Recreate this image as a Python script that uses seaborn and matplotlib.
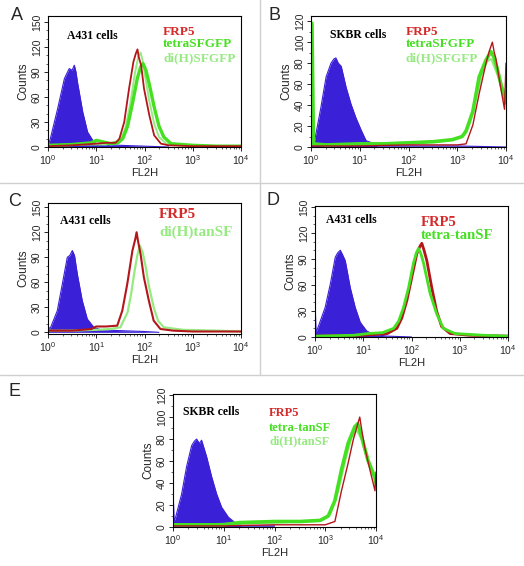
import numpy as np
import pandas as pd
import matplotlib
matplotlib.use("Agg")
import matplotlib.pyplot as plt
from matplotlib.ticker import LogLocator, MultipleLocator, NullFormatter
import seaborn as sns

# --- Data (x = log10 FL2H, y = counts) ---
A_BLUE_X = [0.0, 0.04, 0.2, 0.34, 0.44, 0.5, 0.545, 0.58, 0.61, 0.72, 0.82, 0.96, 1.1, 1.5, 2.0, 2.5]
A_BLUE_Y = [3, 8, 46, 82, 94, 92, 98, 90, 78, 42, 18, 5, 3, 2, 1, 0]
A_RED_X = [0.0, 0.5, 1.0, 1.2, 1.4, 1.48, 1.58, 1.68, 1.77, 1.82, 1.855, 1.88, 1.93, 1.99, 2.1, 2.2, 2.34, 2.5, 3.0, 3.5, 4.0]
A_RED_Y = [1, 2, 4, 5, 5, 10, 30, 70, 102, 112, 117, 108, 98, 70, 38, 14, 4, 2, 1, 1, 1]
A_TETRA_X = [0.0, 0.5, 0.9, 1.0, 1.15, 1.3, 1.45, 1.55, 1.65, 1.75, 1.85, 1.92, 1.97, 2.03, 2.1, 2.2, 2.3, 2.4, 2.55, 3.0, 3.5, 4.0]
A_TETRA_Y = [2, 3, 5, 8, 6, 4, 5, 10, 25, 52, 82, 96, 100, 92, 75, 48, 25, 12, 4, 2, 1, 1]
A_DIH_X = [0.0, 0.8, 1.2, 1.5, 1.6, 1.7, 1.8, 1.87, 1.92, 1.96, 2.02, 2.1, 2.2, 2.3, 2.45, 3.0, 4.0]
A_DIH_Y = [2, 3, 3, 8, 22, 50, 88, 108, 113, 104, 82, 55, 28, 12, 4, 1, 1]

B_BLUE_X = [0.0, 0.07, 0.2, 0.31, 0.41, 0.47, 0.51, 0.56, 0.62, 0.72, 0.82, 0.92, 1.03, 1.13, 1.25, 1.33, 1.36, 2.0, 3.0, 4.0]
B_BLUE_Y = [3, 5, 37, 67, 80, 84, 85, 80, 77, 57, 41, 28, 16, 6, 4, 3, 1, 1, 1, 0]
B_RED_X = [0.0, 1.0, 2.0, 3.0, 3.18, 3.32, 3.45, 3.59, 3.66, 3.72, 3.76, 3.79, 3.89, 3.97, 4.0]
B_RED_Y = [1, 1, 2, 2, 3, 21, 51, 80, 92, 100, 90, 85, 57, 36, 80]
B_TETRA_X = [0.0, 0.02, 0.05, 0.3, 1.0, 1.5, 2.0, 2.5, 2.9, 3.1, 3.18, 3.32, 3.45, 3.59, 3.69, 3.75, 3.82, 3.92, 4.0]
B_TETRA_Y = [118, 118, 3, 2, 3, 3, 4, 5, 7, 10, 15, 34, 67, 83, 91, 86, 75, 55, 42]
B_DIH_X = [0.0, 0.3, 1.0, 2.0, 2.8, 3.1, 3.25, 3.4, 3.52, 3.62, 3.7, 3.8, 3.9, 4.0]
B_DIH_Y = [2, 2, 3, 4, 6, 10, 22, 50, 72, 82, 84, 72, 60, 50]

C_BLUE_X = [0.0, 0.055, 0.193, 0.297, 0.4, 0.45, 0.504, 0.55, 0.607, 0.71, 0.814, 0.95, 1.1, 1.5, 2.0, 2.3]
C_BLUE_Y = [4, 6, 26, 58, 90, 92, 98, 92, 70, 38, 16, 6, 3, 2, 1, 0]
C_RED_X = [0.0, 0.5, 0.9, 1.0, 1.2, 1.435, 1.54, 1.643, 1.75, 1.81, 1.836, 1.87, 1.918, 1.987, 2.09, 2.19, 2.33, 2.6, 3.0, 4.0]
C_RED_Y = [2, 2, 4, 7, 7, 8, 26, 58, 98, 112, 120, 108, 94, 66, 38, 14, 4, 2, 1, 1]
C_DIH_X = [0.0, 0.5, 1.0, 1.3, 1.5, 1.65, 1.72, 1.79, 1.85, 1.905, 1.96, 2.02, 2.09, 2.19, 2.28, 2.4, 2.8, 3.5, 4.0]
C_DIH_Y = [2, 2, 3, 4, 6, 24, 45, 72, 92, 104, 96, 80, 56, 30, 14, 6, 3, 2, 1]

D_BLUE_X = [0.0, 0.005, 0.02, 0.075, 0.21, 0.317, 0.42, 0.47, 0.524, 0.57, 0.627, 0.73, 0.834, 0.937, 1.07, 1.21, 1.5, 2.0]
D_BLUE_Y = [35, 35, 5, 13, 34, 61, 92, 97, 100, 95, 88, 57, 34, 17, 7, 3, 1, 0]
D_RED_X = [0.0, 1.0, 1.5, 1.697, 1.8, 1.904, 2.007, 2.11, 2.17, 2.214, 2.26, 2.318, 2.42, 2.52, 2.625, 2.8, 3.2, 4.0]
D_RED_Y = [1, 2, 4, 10, 22, 42, 69, 96, 104, 108, 100, 88, 57, 30, 12, 4, 2, 1]
D_TETRA_X = [0.0, 0.8, 1.1, 1.4, 1.63, 1.73, 1.835, 1.94, 2.04, 2.1, 2.145, 2.2, 2.25, 2.387, 2.52, 2.66, 2.9, 3.5, 4.0]
D_TETRA_Y = [1, 2, 4, 5, 10, 18, 34, 57, 85, 97, 102, 95, 85, 50, 27, 10, 4, 2, 1]

E_BLUE_X = [0.0, 0.005, 0.02, 0.052, 0.17, 0.268, 0.367, 0.42, 0.465, 0.52, 0.563, 0.662, 0.76, 0.86, 0.958, 1.09, 1.22, 1.32, 1.34, 2.0]
E_BLUE_Y = [30, 30, 5, 9, 30, 55, 74, 78, 80, 76, 79, 64, 46, 30, 18, 9, 4, 3, 1, 1]
E_RED_X = [0.0, 1.0, 2.0, 3.0, 3.19, 3.32, 3.45, 3.55, 3.63, 3.68, 3.72, 3.78, 3.88, 3.98, 4.0]
E_RED_Y = [1, 1, 2, 2, 5, 33, 58, 79, 92, 100, 88, 72, 52, 33, 50]
E_TETRA_X = [0.0, 1.0, 1.3, 2.0, 2.5, 2.9, 3.06, 3.19, 3.32, 3.45, 3.58, 3.64, 3.71, 3.84, 3.97, 4.0]
E_TETRA_Y = [2, 2, 4, 5, 5, 6, 10, 24, 52, 76, 91, 94, 83, 61, 46, 40]
E_DIH_X = [0.0, 1.3, 2.0, 2.9, 3.1, 3.25, 3.4, 3.52, 3.62, 3.72, 3.85, 4.0]
E_DIH_Y = [2, 3, 4, 6, 12, 32, 62, 82, 88, 80, 58, 42]

X_TICKS = [1, 10, 100, 1000, 10000]

# colours
BLUE = "#3a20d6"
RED = "#b3161a"
GREEN = "#45e021"
LIGHT_GREEN = "#97ea82"

W, H = 524, 566

sns.set_theme(style="ticks")
plt.rcParams["font.family"] = ["Liberation Sans", "DejaVu Sans"]
plt.rcParams["axes.linewidth"] = 0.8

fig = plt.figure(figsize=(W / 100, H / 100), dpi=100)


def rect(l, t, r, b):
    return [l / W, 1 - b / H, (r - l) / W, (b - t) / H]


def ftext(x, y, s, **kw):
    fig.text(x / W, 1 - y / H, s, **kw)


def panel(box, ylim, ymajor, blue, lines):
    ax = fig.add_axes(rect(*box))
    bx = 10 ** np.array(blue[0])
    ax.fill_between(bx, blue[1], color=BLUE, lw=0)
    sns.lineplot(x=bx, y=blue[1], color=BLUE, lw=0.8, ax=ax, sort=False)
    for xs, ys, col, lw in lines:
        sns.lineplot(x=10 ** np.array(xs), y=ys, color=col, lw=lw, ax=ax, sort=False)
    ax.set_xscale("log")
    ax.set_xlim(1, 10000)
    ax.set_ylim(*ylim)
    ax.set_xticks(X_TICKS)
    ax.xaxis.set_minor_locator(LogLocator(base=10, subs=np.arange(2, 10)))
    ax.xaxis.set_minor_formatter(NullFormatter())
    ax.yaxis.set_major_locator(MultipleLocator(ymajor))
    ax.yaxis.set_minor_locator(MultipleLocator(10))
    ax.tick_params(which="major", length=3, width=0.7, labelsize=7.5, pad=1.5)
    ax.tick_params(which="minor", length=1.5, width=0.5)
    for lab in ax.get_yticklabels():
        lab.set_rotation(90)
        lab.set_va("center")
    ax.set_xlabel("FL2H", fontsize=8, labelpad=1)
    ax.set_ylabel("Counts", fontsize=8.5, labelpad=2)
    for s in ax.spines.values():
        s.set_visible(True)
        s.set_color("black")
    return ax


panel((48, 16, 241, 147), (0, 157), 30, (A_BLUE_X, A_BLUE_Y),
      [(A_DIH_X, A_DIH_Y, LIGHT_GREEN, 1.4), (A_TETRA_X, A_TETRA_Y, GREEN, 2.4),
       (A_RED_X, A_RED_Y, RED, 1.3)])
panel((311, 16, 506, 147), (0, 125), 20, (B_BLUE_X, B_BLUE_Y),
      [(B_DIH_X, B_DIH_Y, LIGHT_GREEN, 1.6), (B_TETRA_X, B_TETRA_Y, GREEN, 2.6),
       (B_RED_X, B_RED_Y, RED, 1.0)])
panel((48, 203, 241, 334), (-2, 155), 30, (C_BLUE_X, C_BLUE_Y),
      [(C_DIH_X, C_DIH_Y, LIGHT_GREEN, 1.6), (C_RED_X, C_RED_Y, RED, 1.5)])
panel((315, 206, 508, 337), (0, 151), 30, (D_BLUE_X, D_BLUE_Y),
      [(D_RED_X, D_RED_Y, RED, 2.0), (D_TETRA_X, D_TETRA_Y, GREEN, 2.0)])
panel((173, 394, 376, 527), (0, 121), 20, (E_BLUE_X, E_BLUE_Y),
      [(E_DIH_X, E_DIH_Y, LIGHT_GREEN, 1.6), (E_TETRA_X, E_TETRA_Y, GREEN, 2.6),
       (E_RED_X, E_RED_Y, RED, 1.0)])

serif = ["Liberation Serif", "DejaVu Serif"]
bold = dict(family=serif, weight="bold", ha="left", va="center")

# in-plot labels
ftext(67, 36, "A431 cells", color="black", fontsize=8.5, **bold)
ftext(163, 32, "FRP5", color="#d42a2a", fontsize=9.5, **bold)
ftext(163, 44, "tetraSFGFP", color=GREEN, fontsize=9.5, **bold)
ftext(163, 58, "di(H)SFGFP", color=LIGHT_GREEN, fontsize=9.5, **bold)

ftext(330, 35, "SKBR cells", color="black", fontsize=8.5, **bold)
ftext(406, 32, "FRP5", color="#d42a2a", fontsize=9.5, **bold)
ftext(406, 44, "tetraSFGFP", color=GREEN, fontsize=9.5, **bold)
ftext(406, 58, "di(H)SFGFP", color=LIGHT_GREEN, fontsize=9.5, **bold)

ftext(60, 221, "A431 cells", color="black", fontsize=8.5, **bold)
ftext(159, 214, "FRP5", color="#d42a2a", fontsize=11, **bold)
ftext(159, 232, "di(H)tanSF", color=LIGHT_GREEN, fontsize=11, **bold)

ftext(326, 220, "A431 cells", color="black", fontsize=8.5, **bold)
ftext(421, 223, "FRP5", color="#d42a2a", fontsize=10.5, **bold)
ftext(421, 235, "tetra-tanSF", color=GREEN, fontsize=10.5, **bold)

ftext(183, 412, "SKBR cells", color="black", fontsize=8.5, **bold)
ftext(269, 413, "FRP5", color="#d42a2a", fontsize=9, **bold)
ftext(269, 428, "tetra-tanSF", color=GREEN, fontsize=9, **bold)
ftext(269, 441, "di(H)tanSF", color=LIGHT_GREEN, fontsize=9, **bold)

# panel letters
for letter, x, y in [("A", 11, 15), ("B", 268, 15), ("C", 8, 202), ("D", 266, 200), ("E", 8, 391)]:
    ftext(x, y, letter, fontsize=13, ha="left", va="center")

# separators
sep = dict(color="#cfcfcf", lw=1, transform=fig.transFigure)
fig.add_artist(plt.Line2D([0, 1], [1 - 183 / H, 1 - 183 / H], **sep))
fig.add_artist(plt.Line2D([0, 1], [1 - 375 / H, 1 - 375 / H], **sep))
fig.add_artist(plt.Line2D([260 / W, 260 / W], [1, 1 - 375 / H], **sep))

fig.savefig("out.png", dpi=100)
